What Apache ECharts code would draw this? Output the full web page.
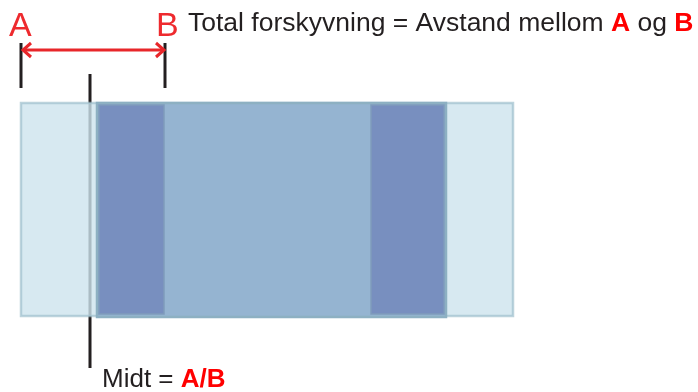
<!DOCTYPE html>
<html>
<head>
<meta charset="utf-8">
<script src="https://cdn.jsdelivr.net/npm/echarts@6/dist/echarts.min.js"></script>
<style>
  html, body { margin: 0; padding: 0; background: #fff; }
  #main { width: 698px; height: 392px; }
</style>
</head>
<body>
<div id="main"></div>
<script>
// rectangles: [x0, x1, y0, y1] in diagram units (px of the drawing)
const outerBand = [21, 513, 103, 316]
const innerBand = [97, 446, 103, 317]
const darkBands = [[99, 164, 105, 314], [371, 444, 105, 314]]
// vertical markers: [x, y0, y1]
const markers = [[21, 43, 88], [165, 43, 88], [90, 74, 368]]
// arrow between A and B: [x0, x1, y]
const arrow = [23, 164, 50]

const chart = echarts.init(document.getElementById('main'))
const font = 'Liberation Sans, Arial, sans-serif'

function rectShape (api, r) {
  const p0 = api.coord([r[0], r[2]])
  const p1 = api.coord([r[1], r[3]])
  return { x: p0[0], y: p0[1], width: p1[0] - p0[0], height: p1[1] - p0[1] }
}

chart.setOption({
  animation: false,
  grid: { left: 0, right: 0, top: 0, bottom: 0 },
  xAxis: { type: 'value', min: 0, max: 698, show: false },
  yAxis: { type: 'value', min: 0, max: 392, inverse: true, show: false },
  series: [
    {
      // midt-linjen ligger under feltene
      type: 'custom',
      z: 1,
      data: [markers[2]],
      renderItem: function (params, api) {
        const m = markers[2]
        const a = api.coord([m[0], m[1]])
        const b = api.coord([m[0], m[2]])
        return {
          type: 'line',
          shape: { x1: a[0], y1: a[1], x2: b[0], y2: b[1] },
          style: { stroke: '#231f20', lineWidth: 3 }
        }
      }
    },
    {
      type: 'custom',
      z: 2,
      data: [0],
      renderItem: function (params, api) {
        const children = []
        children.push({
          type: 'rect',
          shape: rectShape(api, outerBand),
          style: { fill: 'rgba(205,228,238,0.8)', stroke: 'rgba(160,192,205,0.7)', lineWidth: 2.5 }
        })
        children.push({
          type: 'rect',
          shape: rectShape(api, innerBand),
          style: { fill: '#95b4d1', stroke: '#8db0c2', lineWidth: 2.5 }
        })
        darkBands.forEach(function (r) {
          children.push({
            type: 'rect',
            shape: rectShape(api, r),
            style: { fill: '#788fbf', stroke: '#7f9cbc', lineWidth: 1.5 }
          })
        })
        return { type: 'group', children: children }
      }
    },
    {
      type: 'custom',
      z: 3,
      data: [0],
      renderItem: function (params, api) {
        const children = []
        markers.slice(0, 2).forEach(function (m) {
          const a = api.coord([m[0], m[1]])
          const b = api.coord([m[0], m[2]])
          children.push({
            type: 'line',
            shape: { x1: a[0], y1: a[1], x2: b[0], y2: b[1] },
            style: { stroke: '#231f20', lineWidth: 3 }
          })
        })
        const l = api.coord([arrow[0], arrow[2]])
        const r = api.coord([arrow[1], arrow[2]])
        const red = { stroke: '#e8262a', lineWidth: 3, fill: null, lineJoin: 'miter' }
        children.push({ type: 'line', shape: { x1: l[0], y1: l[1], x2: r[0], y2: r[1] }, style: red })
        children.push({ type: 'polyline', shape: { points: [[l[0] + 8, l[1] - 7], [l[0], l[1]], [l[0] + 8, l[1] + 7]] }, style: red })
        children.push({ type: 'polyline', shape: { points: [[r[0] - 8, r[1] - 7], [r[0], r[1]], [r[0] - 8, r[1] + 7]] }, style: red })
        return { type: 'group', children: children }
      }
    }
  ],
  graphic: [
    { type: 'text', left: 9, top: 10, style: { text: 'A', font: '34px ' + font, fill: '#ee2a2e' } },
    { type: 'text', left: 156, top: 10, style: { text: 'B', font: '34px ' + font, fill: '#ee2a2e' } },
    {
      type: 'text', left: 188, top: 10,
      style: {
        text: 'Total forskyvning = Avstand mellom {r|A} og {r|B}',
        font: '26.5px ' + font, fill: '#231f20',
        rich: { r: { font: 'bold 26.5px ' + font, fill: '#ff0000' } }
      }
    },
    {
      type: 'text', left: 102, top: 367,
      style: {
        text: 'Midt = {r|A/B}',
        font: '26px ' + font, fill: '#231f20',
        rich: { r: { font: 'bold 26px ' + font, fill: '#ff0000' } }
      }
    }
  ]
})
</script>
</body>
</html>
